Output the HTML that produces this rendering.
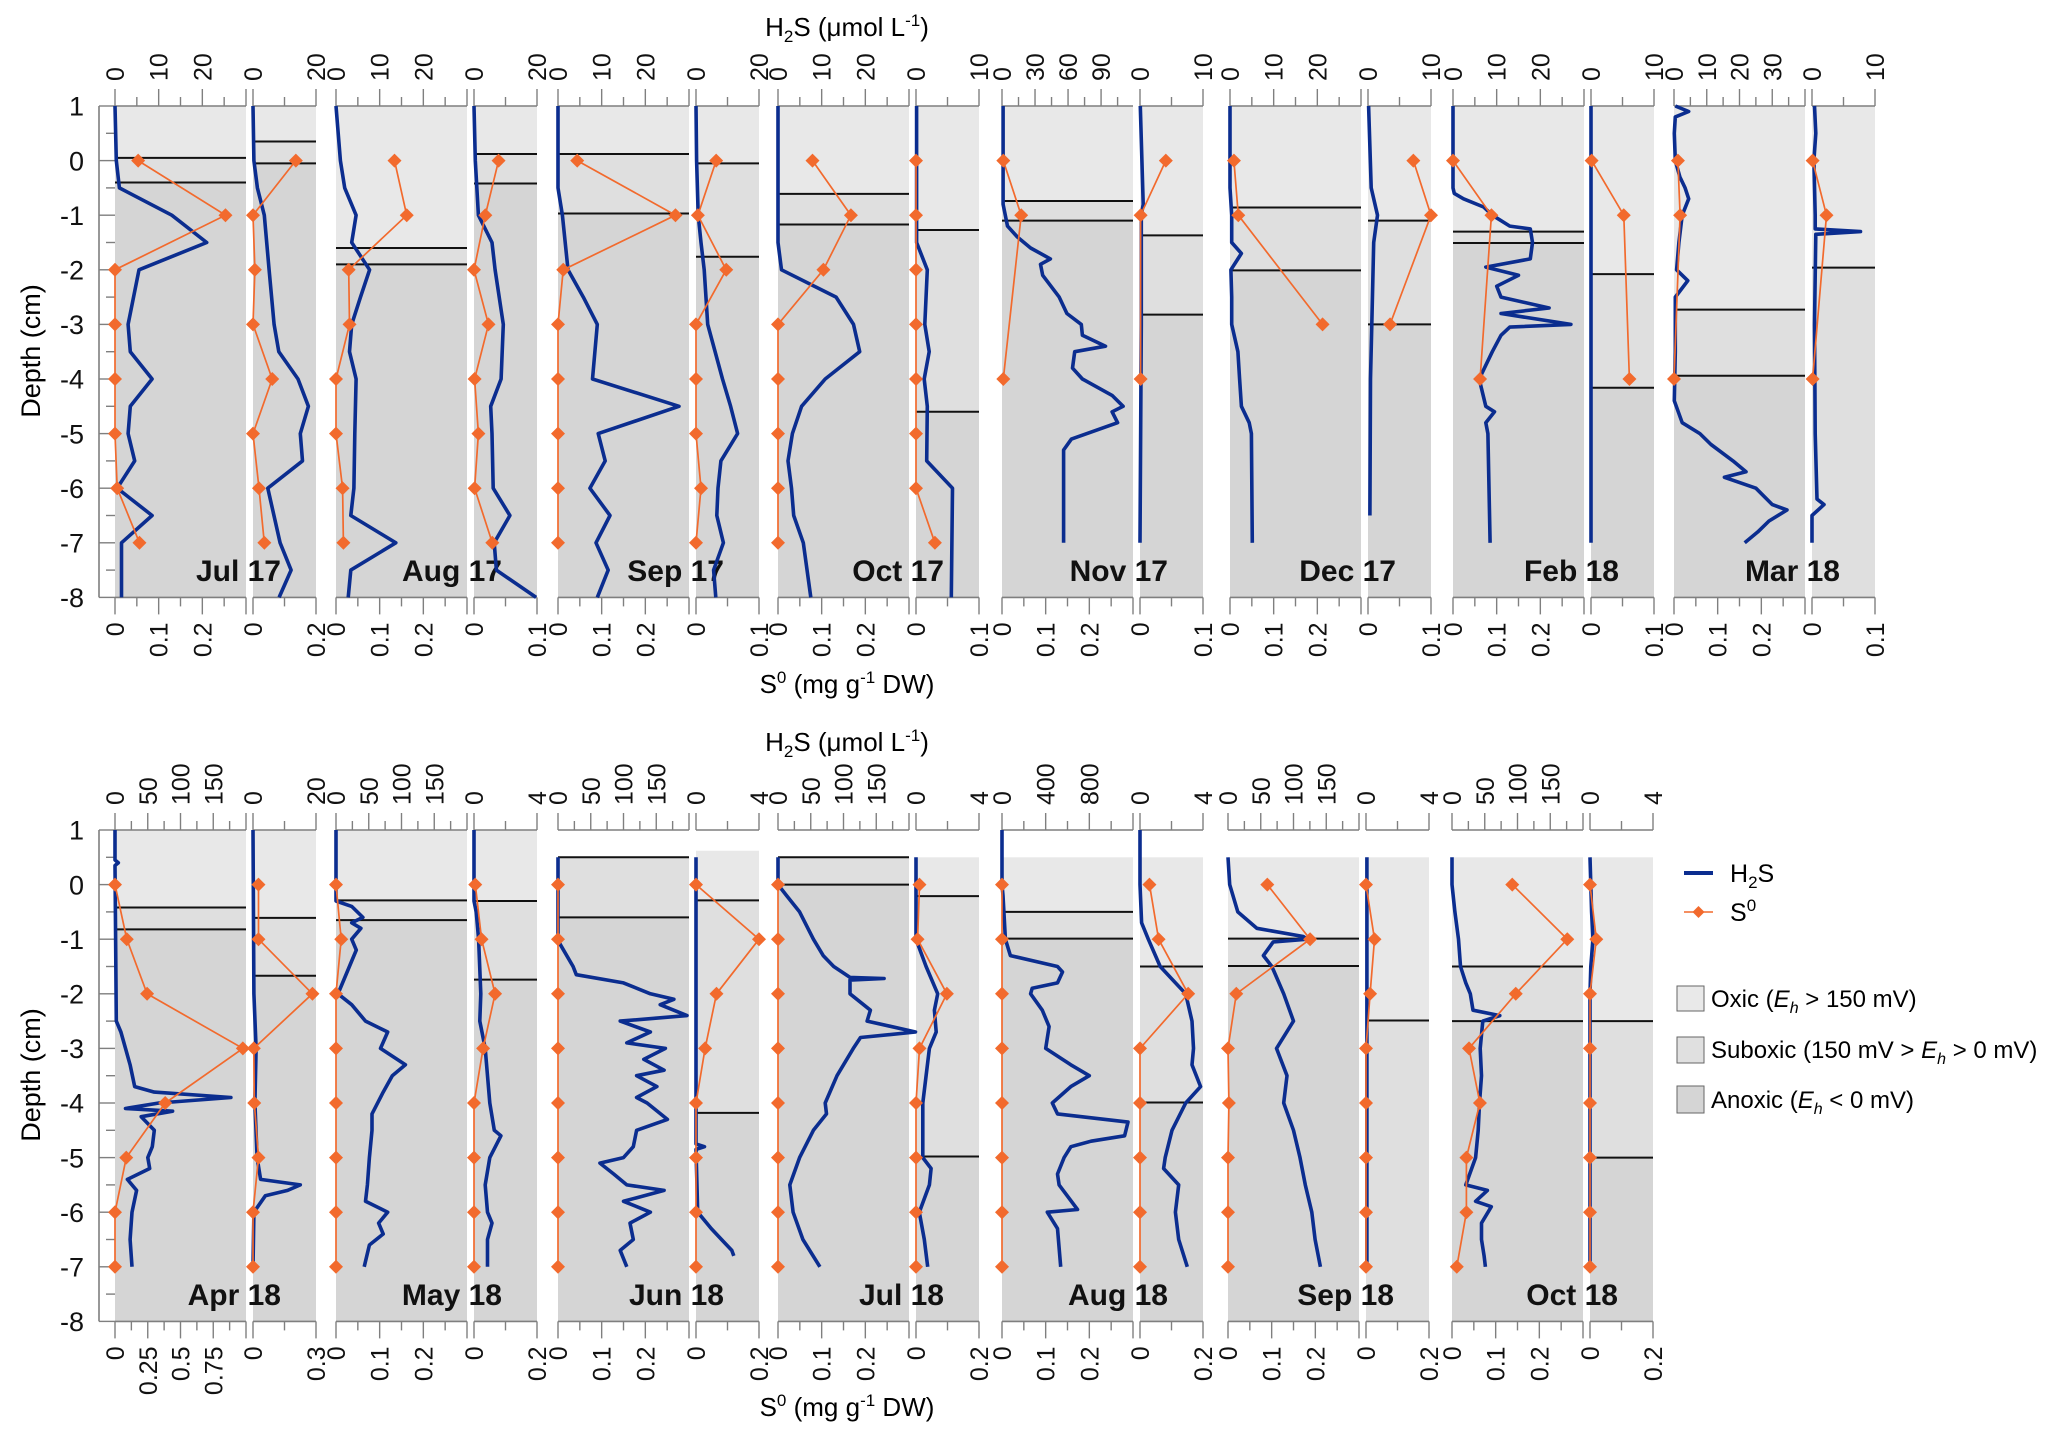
<!DOCTYPE html>
<html>
<head>
<meta charset="utf-8">
<style>
html,body{margin:0;padding:0;background:#fff;}
svg{display:block;font-family:"Liberation Sans",Arial,sans-serif;}
</style>
</head>
<body>
<svg id="chart" width="2067" height="1438" viewBox="0 0 2067 1438" xmlns="http://www.w3.org/2000/svg">
  <g id="static">
    <text x="847" y="36" font-size="26" text-anchor="middle">H<tspan font-size="17" dy="6">2</tspan><tspan dy="-6">S (μmol L</tspan><tspan font-size="17" dy="-10">-1</tspan><tspan dy="10">)</tspan></text>
    <text x="847" y="693" font-size="26" text-anchor="middle">S<tspan font-size="17" dy="-10">0</tspan><tspan dy="10"> (mg g</tspan><tspan font-size="17" dy="-10">-1</tspan><tspan dy="10"> DW)</tspan></text>
    <text x="847" y="751" font-size="26" text-anchor="middle">H<tspan font-size="17" dy="6">2</tspan><tspan dy="-6">S (μmol L</tspan><tspan font-size="17" dy="-10">-1</tspan><tspan dy="10">)</tspan></text>
    <text x="847" y="1416" font-size="26" text-anchor="middle">S<tspan font-size="17" dy="-10">0</tspan><tspan dy="10"> (mg g</tspan><tspan font-size="17" dy="-10">-1</tspan><tspan dy="10"> DW)</tspan></text>
    <text transform="translate(40,351) rotate(-90)" font-size="27" text-anchor="middle">Depth (cm)</text>
    <text transform="translate(40,1075) rotate(-90)" font-size="27" text-anchor="middle">Depth (cm)</text>
    <g>
      <line x1="1684" y1="873" x2="1713" y2="873" stroke="#0b2d8f" stroke-width="4"/>
      <text x="1730" y="882" font-size="25">H<tspan font-size="17" dy="6">2</tspan><tspan dy="-6">S</tspan></text>
      <line x1="1684" y1="912" x2="1713" y2="912" stroke="#f26a2d" stroke-width="1.6"/>
      <path d="M1698.5,906 L1704.5,912 L1698.5,918 L1692.5,912 Z" fill="#f26a2d"/>
      <text x="1730" y="921" font-size="25">S<tspan font-size="17" dy="-10">0</tspan></text>
      <rect x="1677" y="986" width="27" height="25" fill="#e9e9e9" stroke="#666" stroke-width="1"/>
      <text x="1711" y="1007" font-size="24">Oxic (<tspan font-style="italic">E</tspan><tspan font-style="italic" font-size="16" dy="6">h</tspan><tspan dy="-6"> &gt; 150 mV)</tspan></text>
      <rect x="1677" y="1037" width="27" height="26" fill="#e0e0e0" stroke="#666" stroke-width="1"/>
      <text x="1711" y="1058" font-size="24">Suboxic (150 mV &gt; <tspan font-style="italic">E</tspan><tspan font-style="italic" font-size="16" dy="6">h</tspan><tspan dy="-6"> &gt; 0 mV)</tspan></text>
      <rect x="1677" y="1086" width="27" height="27" fill="#d5d5d5" stroke="#666" stroke-width="1"/>
      <text x="1711" y="1108" font-size="24">Anoxic (<tspan font-style="italic">E</tspan><tspan font-style="italic" font-size="16" dy="6">h</tspan><tspan dy="-6"> &lt; 0 mV)</tspan></text>
    </g>
  </g>
</svg>
<script>
// ---------------- DATA ----------------
const s0Depths = [0,-1,-2,-3,-4,-5,-6,-7];
const depthTicks = [1,0,-1,-2,-3,-4,-5,-6,-7,-8];

// Jul 17
const jul17_h2s = [[1,0],[0,0.3],[-0.5,1],[-1,13],[-1.5,21],[-2,5.5],[-3,3],[-3.5,3.5],[-4,8.5],[-4.5,3.5],[-5,3],[-5.5,4.5],[-6,0.5],[-6.5,8.5],[-7,1.5],[-8,1.5]];
const jul17_s0 = [0.053,0.253,0,0,0,0,0.005,0.056];
const jul17_subH = [[1,0],[0,0.3],[-0.5,1.4],[-1,3.6],[-2,5.1],[-3,6.7],[-3.5,8.2],[-4,14.3],[-4.5,17.6],[-5,15],[-5.5,15.7],[-6,4.7],[-7,8.6],[-7.5,12.1],[-8,8.3]];
const jul17_subS = [0.136,0,0.006,0,0.061,0,0.019,0.036];
const jul17_zones = [1,0.05,-0.4];
const jul17_subZones = [1,0.35,-0.05];
// Aug 17
const aug17_h2s = [[1,0],[0,1],[-0.5,2],[-1,4.6],[-1.5,3.6],[-2,7.7],[-2.5,5.6],[-3,3.6],[-3.5,3.1],[-4,4.6],[-5,4.3],[-6,4.1],[-6.5,3.4],[-7,13.7],[-7.5,3.4],[-8,2.8]];
const aug17_s0 = [0.134,0.162,0.029,0.031,0,0,0.015,0.017];
const aug17_subH = [[1,0],[0,0.4],[-1,1.4],[-1.5,5.7],[-2,6.7],[-3,9.3],[-4,8.6],[-4.5,5.3],[-5,5.7],[-6,6.1],[-6.5,11.4],[-7,6.4],[-7.5,7.1],[-8,19.7]];
const aug17_subS = [0.039,0.018,0,0.023,0.001,0.007,0.001,0.029];
const aug17_zones = [1,-1.6,-1.9];
const aug17_subZones = [1,0.12,-0.42];
// Sep 17
const sep17_h2s = [[1,0],[-0.5,0],[-1,1],[-2,2.3],[-2.5,5.8],[-3,9],[-4,7.9],[-4.5,27.7],[-5,9.2],[-5.5,10.8],[-6,7.3],[-6.5,11.9],[-7,8.7],[-7.5,11.5],[-8,9]];
const sep17_s0 = [0.044,0.269,0.012,0,0,0,0,0];
const sep17_subH = [[1,0],[0,0.2],[-1,0.7],[-1.5,1.6],[-2,2.6],[-3,3.7],[-4,8.4],[-4.5,11],[-5,13.2],[-5.5,7.9],[-6,7],[-6.5,6.6],[-7,8.7],[-7.5,5.6],[-8,6.3]];
const sep17_subS = [0.032,0.003,0.048,0,0,0,0.008,0];
const sep17_zones = [1,0.12,-0.97];
const sep17_subZones = [1,-0.05,-1.76];
// Oct 17
const oct17_h2s = [[1,0],[-1.5,0],[-2,0.8],[-2.5,13.3],[-3,17.3],[-3.5,18.7],[-4,10.8],[-4.5,5.4],[-5,3.3],[-5.5,2.3],[-6,3.1],[-6.5,3.6],[-7,5.8],[-8,7.5]];
const oct17_s0 = [0.079,0.167,0.104,0,0,0,0,0];
const oct17_subH = [[1,0.1],[-1.5,0.1],[-2,1.8],[-3,1.4],[-3.5,2.1],[-4,1.3],[-4.5,1.8],[-5.5,1.7],[-6,5.8],[-8,5.6]];
const oct17_subS = [0,0,0,0,0,0,0,0.03];
const oct17_zones = [1,-0.61,-1.17];
const oct17_subZones = [1,-1.27,-4.6];
// Nov 17
const nov17_h2s = [[1,1],[-0.8,1],[-1.2,5],[-1.4,14],[-1.6,26],[-1.8,44],[-1.9,35],[-2.1,37],[-2.5,52],[-2.8,59],[-3,72],[-3.2,73],[-3.4,94],[-3.5,66],[-3.8,64],[-4,73],[-4.3,100],[-4.5,110],[-4.6,100],[-4.8,105],[-5.1,63],[-5.3,56],[-7,56]];
const nov17_s0 = [[0,0.003],[-1,0.044],[-4,0.003]];
const nov17_subH = [[1,0.05],[-0.8,0.5],[-1,0.2],[-3,0.2],[-7,0]];
const nov17_subS = [[0,0.041],[-1,0.001],[-4,0.001]];
const nov17_zones = [1,-0.74,-1.1];
const nov17_subZones = [1,-1.37,-2.82];
// Dec 17
const dec17_h2s = [[1,0],[-0.5,0],[-1,0.4],[-1.5,0.4],[-1.7,2.6],[-1.8,1.8],[-2,0.2],[-2.5,0.4],[-3,0.4],[-3.5,1.8],[-4,2.2],[-4.5,2.6],[-4.8,4.4],[-5,4.9],[-7,5.1]];
const dec17_s0 = [[0,0.009],[-1,0.019],[-3,0.212]];
const dec17_subH = [[1,0.1],[-0.5,0.5],[-1,1.5],[-1.5,0.9],[-3,0.6],[-4,0.4],[-6.5,0.3]];
const dec17_subS = [[0,0.072],[-1,0.1],[-3,0.035]];
const dec17_zones = [1,-0.86,-2.01];
const dec17_subZones = [1,-1.1,-3.0];
// Feb 18
const feb18_h2s = [[1,0],[-0.5,0],[-0.6,0.3],[-0.7,2.4],[-0.85,7],[-1,9],[-1.2,13],[-1.25,17.7],[-1.5,18.2],[-1.8,17.7],[-1.95,7.5],[-2.1,15],[-2.3,10],[-2.5,11],[-2.7,22],[-2.8,11],[-3,27],[-3.05,13],[-3.2,11],[-3.5,9],[-4,6],[-4.5,7.5],[-4.6,9.5],[-4.8,7.5],[-5,8],[-7,8.5]];
const feb18_s0 = [[0,0],[-1,0.088],[-4,0.062]];
const feb18_subH = [[1,0],[-7,0]];
const feb18_subS = [[0,0.001],[-1,0.052],[-4,0.061]];
const feb18_zones = [1,-1.3,-1.51];
const feb18_subZones = [1,-2.08,-4.16];
// Mar 18
const mar18_h2s = [[1,0.4],[0.9,4.5],[0.8,0.4],[0.5,0.1],[0,0.4],[-0.3,1.8],[-0.5,3.4],[-0.7,4.5],[-1,2.5],[-1.5,1.5],[-2,0.8],[-2.2,4.2],[-2.5,0.4],[-3.5,0.4],[-4.4,0.1],[-4.8,2.5],[-5,7.9],[-5.2,11.3],[-5.5,18],[-5.7,22],[-5.8,15.4],[-6,25],[-6.3,30],[-6.4,34.5],[-6.6,29],[-6.8,25.6],[-7,21.6]];
const mar18_s0 = [[0,0.009],[-1,0.014],[-4,0]];
const mar18_subH = [[1,0.4],[0.5,0.6],[0,0.3],[-1,0.5],[-1.25,0.5],[-1.3,7.7],[-1.35,0.6],[-3,0.4],[-5,0.5],[-6.2,0.8],[-6.3,1.9],[-6.5,0],[-7,0]];
const mar18_subS = [[0,0.001],[-1,0.023],[-4,0.001]];
const mar18_zones = [1,-2.73,-3.94];
const mar18_subZones = [1,-1.96];
// Apr 18
const apr18_h2s = [[1,0],[0.45,0],[0.4,5],[0.35,0],[-2.5,2],[-2.7,9],[-3,16],[-3.3,23],[-3.7,30],[-3.8,60],[-3.9,177],[-4,67],[-4.1,16],[-4.15,88],[-4.25,40],[-4.5,60],[-4.8,57],[-5,50],[-5.2,53],[-5.4,19],[-5.6,33],[-6,26],[-6.5,23],[-7,26]];
const apr18_s0 = [0,0.09,0.245,0.976,0.383,0.086,0,0];
const apr18_subH = [[1,0],[-2,0.3],[-3,1],[-4,0.6],[-5,1.3],[-5.4,2.4],[-5.5,15],[-5.6,11],[-5.7,3.9],[-6,0.3],[-7,0]];
const apr18_subS = [0.026,0.026,0.283,0.004,0.006,0.026,0,0];
const apr18_zones = [1,-0.42,-0.82];
const apr18_subZones = [1,-0.61,-1.67];
// May 18
const may18_h2s = [[1,0],[-0.3,0],[-0.4,24],[-0.6,41],[-0.7,24],[-0.8,38],[-1,24],[-1.2,31],[-1.4,24],[-2,3],[-2.2,24],[-2.5,45],[-2.7,79],[-3,68],[-3.3,106],[-3.5,86],[-3.8,72],[-4.2,55],[-4.5,55],[-5,51],[-5.5,48],[-5.8,45],[-6,79],[-6.2,65],[-6.4,72],[-6.6,51],[-7,43]];
const may18_s0 = [0,0.012,0,0,0,0,0,0];
const may18_subH = [[1,0],[-0.3,0],[-0.5,0.14],[-1,0.29],[-2,0.43],[-2.5,0.37],[-3,0.71],[-4,1.0],[-4.5,1.29],[-4.6,1.71],[-5,1.0],[-5.5,0.71],[-6,0.86],[-6.2,1.14],[-6.5,0.86],[-7,0.86]];
const may18_subS = [0.004,0.024,0.067,0.029,0,0,0,0];
const may18_zones = [1,-0.29,-0.65];
const may18_subZones = [1,-0.3,-1.74];
// Jun 18
const jun18_h2s = [[0.5,0],[-1,0],[-1.1,3.6],[-1.5,23],[-1.65,28],[-1.8,100],[-2,141],[-2.1,177],[-2.2,156],[-2.4,197],[-2.5,95],[-2.7,141],[-2.9,105],[-3,164],[-3.2,131],[-3.4,162],[-3.5,120],[-3.7,151],[-3.9,120],[-4,136],[-4.3,167],[-4.5,120],[-4.8,115],[-5,100],[-5.1,64],[-5.3,85],[-5.5,105],[-5.6,162],[-5.8,100],[-6,141],[-6.2,110],[-6.5,115],[-6.7,95],[-7,105]];
const jun18_s0 = [0,0,0,0,0,0,0,0];
const jun18_subH = [[0.5,0],[-4.75,0],[-4.8,0.54],[-4.85,0],[-6,0.11],[-6.3,0.97],[-6.5,1.62],[-6.7,2.27],[-6.8,2.4]];
const jun18_subS = [0,0.2,0.065,0.029,0,0,0,0];
const jun18_zones = [0.5,0.5,-0.6];
const jun18_subZones = [0.62,-0.29,-4.18];
// Jul 18
const jul18_h2s = [[0.5,0],[0,0],[-0.2,13],[-0.5,33],[-1,54],[-1.3,69],[-1.5,85],[-1.7,110],[-1.72,162],[-1.75,110],[-2,110],[-2.3,141],[-2.5,136],[-2.7,210],[-2.8,126],[-3,115],[-3.5,90],[-4,72],[-4.2,74],[-4.5,54],[-5,33],[-5.5,18],[-6,23],[-6.5,38],[-7,64]];
const jul18_s0 = [0,0,0,0,0,0,0,0];
const jul18_subH = [[0.5,0],[-1,0],[-1.5,0.64],[-2,1.38],[-2.3,1.17],[-2.7,1.28],[-3,0.85],[-4,0.43],[-5,0.43],[-5.2,0.96],[-5.5,0.85],[-6,0.21],[-6.5,0.53],[-7,0.74]];
const jul18_subS = [0.011,0.005,0.098,0.011,0,0,0,0];
const jul18_zones = [0.5,0.5,0.0];
const jul18_subZones = [0.5,-0.21,-4.98];
// Aug 18
const aug18_h2s = [[1,0],[0,0],[-0.2,9],[-1,31],[-1.3,77],[-1.5,508],[-1.6,554],[-1.8,508],[-1.9,277],[-2,262],[-2.3,369],[-2.6,431],[-3,400],[-3.3,630],[-3.5,800],[-3.7,630],[-4,461],[-4.2,508],[-4.35,1154],[-4.6,1123],[-4.7,815],[-4.8,631],[-5,569],[-5.3,508],[-5.5,523],[-5.95,692],[-6,415],[-6.3,508],[-7,538]];
const aug18_s0 = [0,0,0,0,0,0,0,0];
const aug18_subH = [[1,0],[0,0],[-0.7,0.1],[-1,0.53],[-1.5,1.28],[-2,2.9],[-2.5,3.3],[-3,3.4],[-3.3,3.3],[-3.7,3.85],[-4,2.9],[-4.5,2.03],[-5,1.6],[-5.2,1.5],[-5.5,2.46],[-6,2.25],[-6.5,2.46],[-7,3.0]];
const aug18_subS = [0.03,0.059,0.153,0,0,0,0,0];
const aug18_zones = [0.5,-0.5,-0.99];
const aug18_subZones = [0.5,-1.5,-3.99];
// Sep 18
const sep18_h2s = [[0.5,0],[0,2.6],[-0.5,15],[-0.8,44],[-0.95,115],[-1,121],[-1.05,69],[-1.3,54],[-1.5,67],[-2,85],[-2.5,100],[-3,74],[-3.5,90],[-4,85],[-4.5,100],[-5,110],[-5.5,118],[-6,128],[-6.5,133],[-7,141]];
const sep18_s0 = [0.09,0.188,0.019,0,0.002,0,0,0];
const sep18_subH = [[0.5,0.06],[-7,0.06]];
const sep18_subS = [0,0.027,0.013,0,0,0,0,0];
const sep18_zones = [0.5,-0.99,-1.49];
const sep18_subZones = [0.5,-2.49];
// Oct 18
const oct18_h2s = [[0.5,0],[0,0],[-0.5,4.5],[-1,10],[-1.5,13],[-1.8,21],[-2,28],[-2.3,32],[-2.4,73],[-2.5,47],[-3,43],[-3.5,45],[-4,42],[-4.5,40],[-5,36],[-5.5,21],[-5.6,54],[-5.8,36],[-5.9,60],[-6.2,45],[-6.5,45],[-6.8,49],[-7,51]];
const oct18_s0 = [0.138,0.264,0.146,0.039,0.064,0.033,0.033,0.011];
const oct18_subH = [[0.5,0],[-0.5,0.1],[-1,0.19],[-1.5,0.05],[-2,0],[-7,0]];
const oct18_subS = [0,0.02,0,0,0,0,0,0];
const oct18_zones = [0.5,-1.5,-2.5];
const oct18_subZones = [0.5,-2.5,-5.0];

// axis tick label sets
const ax30 = {max:30, step:10, labels:[0,10,20]};
const ax03 = {max:0.3, step:0.1, labels:[0,0.1,0.2]};
const ax20s = {max:20, step:20, minor:10, labels:[0,20]};
const ax10s = {max:10, step:10, minor:5, labels:[0,10]};
const ax02s = {max:0.2, step:0.2, minor:0.1, labels:[0,0.2]};
const ax01s = {max:0.1, step:0.1, minor:0.05, labels:[0,0.1]};
const ax4s = {max:4, step:4, minor:2, labels:[0,4]};
const ax03s = {max:0.3, step:0.3, minor:0.15, labels:[0,0.3]};
const ax200 = {max:200, step:50, labels:[0,50,100,150]};
const axNov = {max:119, step:30, labels:[0,30,60,90]};
const axMar = {max:40, step:10, labels:[0,10,20,30]};
const axAug18 = {max:1200, step:400, minor:200, labels:[0,400,800]};
const axApr = {max:1.0, step:0.25, labels:[0,0.25,0.5,0.75]};

const panels = [
 {id:'jul-17', title:'Jul 17', row:0, x:115, mt:ax30, mb:ax03, st:ax20s, sb:ax02s, h:jul17_h2s, s:jul17_s0, sh:jul17_subH, ss:jul17_subS, z:jul17_zones, sz:jul17_subZones},
 {id:'aug-17', title:'Aug 17', row:0, x:336, mt:ax30, mb:ax03, st:ax20s, sb:ax01s, h:aug17_h2s, s:aug17_s0, sh:aug17_subH, ss:aug17_subS, z:aug17_zones, sz:aug17_subZones},
 {id:'sep-17', title:'Sep 17', row:0, x:558, mt:ax30, mb:ax03, st:ax20s, sb:ax01s, h:sep17_h2s, s:sep17_s0, sh:sep17_subH, ss:sep17_subS, z:sep17_zones, sz:sep17_subZones},
 {id:'oct-17', title:'Oct 17', row:0, x:778, mt:ax30, mb:ax03, st:ax10s, sb:ax01s, h:oct17_h2s, s:oct17_s0, sh:oct17_subH, ss:oct17_subS, z:oct17_zones, sz:oct17_subZones},
 {id:'nov-17', title:'Nov 17', row:0, x:1002, mt:axNov, mb:ax03, st:ax10s, sb:ax01s, h:nov17_h2s, s:nov17_s0, sh:nov17_subH, ss:nov17_subS, z:nov17_zones, sz:nov17_subZones},
 {id:'dec-17', title:'Dec 17', row:0, x:1230, mt:ax30, mb:ax03, st:ax10s, sb:ax01s, h:dec17_h2s, s:dec17_s0, sh:dec17_subH, ss:dec17_subS, z:dec17_zones, sz:dec17_subZones},
 {id:'feb-18', title:'Feb 18', row:0, x:1453, mt:ax30, mb:ax03, st:ax10s, sb:ax01s, h:feb18_h2s, s:feb18_s0, sh:feb18_subH, ss:feb18_subS, z:feb18_zones, sz:feb18_subZones},
 {id:'mar-18', title:'Mar 18', row:0, x:1674, mt:axMar, mb:ax03, st:ax10s, sb:ax01s, h:mar18_h2s, s:mar18_s0, sh:mar18_subH, ss:mar18_subS, z:mar18_zones, sz:mar18_subZones},
 {id:'apr-18', title:'Apr 18', row:1, x:115, mt:ax200, mb:axApr, st:ax20s, sb:ax03s, h:apr18_h2s, s:apr18_s0, sh:apr18_subH, ss:apr18_subS, z:apr18_zones, sz:apr18_subZones},
 {id:'may-18', title:'May 18', row:1, x:336, mt:ax200, mb:ax03, st:ax4s, sb:ax02s, h:may18_h2s, s:may18_s0, sh:may18_subH, ss:may18_subS, z:may18_zones, sz:may18_subZones},
 {id:'jun-18', title:'Jun 18', row:1, x:558, mt:ax200, mb:ax03, st:ax4s, sb:ax02s, h:jun18_h2s, s:jun18_s0, sh:jun18_subH, ss:jun18_subS, z:jun18_zones, sz:jun18_subZones},
 {id:'jul-18', title:'Jul 18', row:1, x:778, mt:ax200, mb:ax03, st:ax4s, sb:ax02s, h:jul18_h2s, s:jul18_s0, sh:jul18_subH, ss:jul18_subS, z:jul18_zones, sz:jul18_subZones},
 {id:'aug-18', title:'Aug 18', row:1, x:1002, mt:axAug18, mb:ax03, st:ax4s, sb:ax02s, h:aug18_h2s, s:aug18_s0, sh:aug18_subH, ss:aug18_subS, z:aug18_zones, sz:aug18_subZones},
 {id:'sep-18', title:'Sep 18', row:1, x:1228, mt:ax200, mb:ax03, st:ax4s, sb:ax02s, h:sep18_h2s, s:sep18_s0, sh:sep18_subH, ss:sep18_subS, z:sep18_zones, sz:sep18_subZones},
 {id:'oct-18', title:'Oct 18', row:1, x:1452, mt:ax200, mb:ax03, st:ax4s, sb:ax02s, h:oct18_h2s, s:oct18_s0, sh:oct18_subH, ss:oct18_subS, z:oct18_zones, sz:oct18_subZones}
];

// ---------------- LAYOUT / DRAWING ----------------
const NS = 'http://www.w3.org/2000/svg';
const svg = document.getElementById('chart');
const ROW_TOP = [106, 830];
const CM = 54.6;
const MAIN_W = 131, SUB_OFF = 138, SUB_W = 63;
const ZONE_FILL = ['#e8e8e8','#dfdfdf','#d5d5d5'];
const ZONE_NAME = ['oxic-zone','suboxic-zone','anoxic-zone'];
const BLUE = '#0b2d8f', ORANGE = '#f26a2d', AXIS = '#7f7f7f';

function mk(tag, attrs, parent){
  const e = document.createElementNS(NS, tag);
  for (const k in attrs) e.setAttribute(k, attrs[k]);
  (parent || svg).appendChild(e);
  return e;
}
function yScale(row){ return d => ROW_TOP[row] + (1 - d) * CM; }
function xScale(x0, w, max){ return v => x0 + (v / max) * w; }
function fmt(v){ return String(+v.toFixed(3)); }

function drawZones(g, x0, w, y, z, pid){
  const bottom = -8;
  const bounds = z.length === 3 ? [z[0], z[1], z[2], bottom] : [z[0], z[1], z[1], bottom];
  const fills = z.length === 3 ? [0,1,2] : [0,0,1];
  for (let i = 0; i < 3; i++){
    const top = bounds[i], bot = bounds[i+1];
    if (top - bot <= 0) continue;
    const r = mk('rect', {x:x0, y:y(top), width:w, height:y(bot)-y(top), fill:ZONE_FILL[fills[i]]}, g);
    
    
  }
  for (let i = 1; i < z.length; i++){
    const l = mk('line', {x1:x0, x2:x0+w, y1:y(z[i]), y2:y(z[i]), stroke:'#111', 'stroke-width':2}, g);
    
    
  }
}

function drawAxis(g, x0, w, yLine, ax, dir, pid){
  const line = mk('line', {x1:x0, x2:x0+w, y1:yLine, y2:yLine, stroke:AXIS, 'stroke-width':1.6}, g);
  
  
  const minor = ax.minor || ax.step / 2;
  const xs = xScale(x0, w, ax.max);
  const n = Math.floor(ax.max / minor + 1e-6);
  for (let i = 0; i <= n; i++){
    const v = i * minor;
    const major = Math.abs(v / ax.step - Math.round(v / ax.step)) < 1e-6;
    const len = major ? 17 : 9;
    const t = mk('line', {x1:xs(v), x2:xs(v), y1:yLine, y2:yLine + dir*len, stroke:AXIS, 'stroke-width':1.4}, g);
    
    
  }
  ax.labels.forEach(v => {
    const tx = xs(v);
    const ty = dir < 0 ? yLine - 25 : yLine + 25;
    const t = mk('text', {transform:'translate(' + tx + ',' + ty + ') rotate(-90)', 'text-anchor': dir < 0 ? 'start' : 'end', dy:'0.36em', 'font-size':25, fill:'#111'}, g);
    t.textContent = fmt(v);
    
    
  });
}

function drawLine(g, pts, xs, y, pid){
  const d = pts.map((p,i) => (i ? 'L' : 'M') + xs(p[1]).toFixed(1) + ',' + y(p[0]).toFixed(1)).join(' ');
  const p = mk('path', {d:d, fill:'none', stroke:BLUE, 'stroke-width':3.6, 'stroke-linejoin':'round'}, g);
  
  
}

function drawS0(g, vals, xs, y, pid){
  const pts = (typeof vals[0] === 'number') ? vals.map((v,i) => [s0Depths[i], v]) : vals;
  const d = pts.map((p,i) => (i ? 'L' : 'M') + xs(p[1]).toFixed(1) + ',' + y(p[0]).toFixed(1)).join(' ');
  const l = mk('path', {d:d, fill:'none', stroke:ORANGE, 'stroke-width':1.7}, g);
  
  
  pts.forEach(p => {
    const cx = xs(p[1]), cy = y(p[0]);
    const m = mk('path', {d:'M'+cx+','+(cy-7)+' L'+(cx+7)+','+cy+' L'+cx+','+(cy+7)+' L'+(cx-7)+','+cy+' Z', fill:ORANGE}, g);
    
    
  });
}

// depth axes
[0,1].forEach(row => {
  const y = yScale(row);
  const g = mk('g', {});
  
  
  const ax = mk('line', {x1:99, x2:99, y1:y(1), y2:y(-8), stroke:AXIS, 'stroke-width':1.6}, g);
  
  
  for (let v = 1; v >= -8; v -= 0.5){
    const major = Number.isInteger(v);
    const t = mk('line', {x1: major ? 99 : 106, x2:115, y1:y(v), y2:y(v), stroke:AXIS, 'stroke-width':1.4}, g);
    
    
  }
  depthTicks.forEach(v => {
    const t = mk('text', {x:84, y:y(v), dy:'0.36em', 'text-anchor':'end', 'font-size':27, fill:'#111'}, g);
    t.textContent = String(v);
    
    
  });
});

panels.forEach(P => {
  const y = yScale(P.row);
  const g = mk('g', {});
  
  
  const mx = P.x, sx = P.x + SUB_OFF;
  drawZones(g, mx, MAIN_W, y, P.z, P.id + '-main');
  drawZones(g, sx, SUB_W, y, P.sz, P.id + '-sub');
  drawAxis(g, mx, MAIN_W, y(1), P.mt, -1, P.id + '-main-top');
  drawAxis(g, mx, MAIN_W, y(-8), P.mb, 1, P.id + '-main-bottom');
  drawAxis(g, sx, SUB_W, y(1), P.st, -1, P.id + '-sub-top');
  drawAxis(g, sx, SUB_W, y(-8), P.sb, 1, P.id + '-sub-bottom');
  const t = mk('text', {x:P.x + 166, y:y(-7.5) + 11, 'text-anchor':'end', 'font-size':30, 'font-weight':'bold', fill:'#111'}, g);
  t.textContent = P.title;
  
  
  drawLine(g, P.h, xScale(mx, MAIN_W, P.mt.max), y, P.id + '-main');
  drawS0(g, P.s, xScale(mx, MAIN_W, P.mb.max), y, P.id + '-main');
  drawLine(g, P.sh, xScale(sx, SUB_W, P.st.max), y, P.id + '-sub');
  drawS0(g, P.ss, xScale(sx, SUB_W, P.sb.max), y, P.id + '-sub');
});
</script>
</body>
</html>
